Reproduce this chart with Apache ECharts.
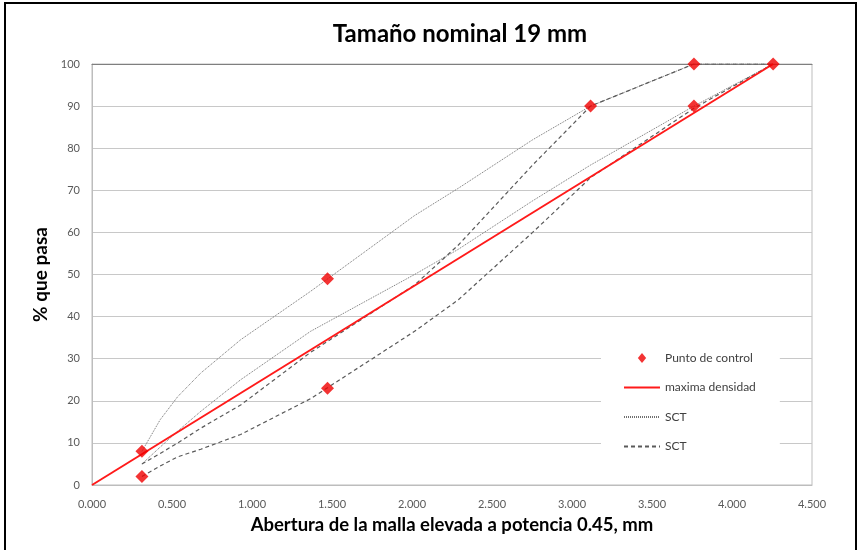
<!DOCTYPE html>
<html>
<head>
<meta charset="utf-8">
<script src="https://cdn.jsdelivr.net/npm/echarts@6/dist/echarts.min.js"></script>
<style>
  html, body { margin: 0; padding: 0; background: #fff; }
  #chart { width: 863px; height: 550px; }
</style>
</head>
<body>
<div id="chart"></div>
<script>
// Sieve openings raised to the 0.45 power (mm^0.45): 0.075 ... 25 mm
const sieveX = [0.312, 0.426, 0.536, 0.680, 0.929, 1.366, 2.016, 2.290, 2.754, 3.116, 3.762, 4.257];

// SCT limits, dotted pair
const sctDottedUpper = [8, 15.5, 21, 26.6, 34.5, 46, 64, 70.5, 82, 90, 100, 100];
const sctDottedLower = [5, 9, 12.8, 17.5, 25, 36.5, 50, 56, 67.5, 76, 90, 100];

// SCT limits, dashed pair
const sctDashedUpper = [5, 7.5, 10, 13.5, 19, 31.5, 47.5, 57, 76, 90, 100, 100];
const sctDashedLower = [2, 4.5, 6.7, 8.5, 12, 20.5, 36.5, 44, 60, 73, 89.5, 100];

// Control points (x = opening^0.45, y = % passing)
const controlX = [0.312, 0.312, 1.472, 1.472, 3.116, 3.762, 3.762, 4.257];
const controlY = [8, 2, 49, 23, 90, 100, 90, 100];

// Maximum density line, from origin to the maximum size
const maxDensityX = [0, 4.257];
const maxDensityY = [0, 100];

const xTicks = { min: 0, max: 4.5, interval: 0.5 };
const yTicks = { min: 0, max: 100, interval: 10 };

const pairs = (xs, ys) => xs.map((x, i) => [x, ys[i]]);

const labelFont = 'Lato, "Open Sans", sans-serif';
const dottedStyle = { color: '#707070', width: 1, type: [1, 1] };
const dashedStyle = { color: '#5a5a5a', width: 1.2, type: [4, 3] };
const hiddenSymbol = { opacity: 0 };

const chart = echarts.init(document.getElementById('chart'));
chart.setOption({
  animation: false,
  backgroundColor: '#fff',
  title: {
    text: 'Tamaño nominal 19 mm',
    left: 455,
    top: 17,
    textAlign: 'center',
    textStyle: { fontFamily: labelFont, fontWeight: 'bold', fontSize: 24, color: '#000' }
  },
  graphic: [{
    type: 'rect',
    shape: { x: 5, y: 3, width: 851, height: 560 },
    style: { fill: 'none', stroke: '#000', lineWidth: 2 },
    silent: true,
    z: 100
  }],
  grid: {
    left: 92, right: 51, top: 64, bottom: 65,
    show: true, borderColor: '#bdbdbd', borderWidth: 1
  },
  legend: {
    orient: 'vertical',
    left: 601,
    top: 340,
    padding: [12, 24, 12, 22],
    backgroundColor: '#fff',
    itemWidth: 36,
    itemHeight: 10,
    itemGap: 17.5,
    symbolKeepAspect: true,
    textStyle: { fontFamily: labelFont, fontSize: 12, color: '#404040' },
    formatter: name => name.trim(),
    data: [
      { name: 'Punto de control', icon: 'path://M5,0 L10,6 L5,12 L0,6 Z' },
      { name: 'maxima densidad', itemStyle: hiddenSymbol },
      { name: 'SCT', itemStyle: hiddenSymbol },
      { name: 'SCT ', itemStyle: hiddenSymbol }
    ]
  },
  xAxis: [{
    type: 'value',
    min: xTicks.min, max: xTicks.max, interval: xTicks.interval,
    name: 'Abertura de la malla elevada a potencia 0.45, mm',
    nameLocation: 'middle',
    nameGap: 31,
    nameTextStyle: { fontFamily: labelFont, fontWeight: 'bold', fontSize: 18.5, color: '#000' },
    axisLine: { lineStyle: { color: '#bdbdbd' } },
    axisTick: { show: false },
    splitLine: { show: false },
    axisLabel: {
      margin: 14, color: '#595959', fontFamily: labelFont, fontSize: 11,
      formatter: v => v.toFixed(3)
    }
  }, {
    type: 'value', position: 'top',
    min: xTicks.min, max: xTicks.max,
    axisLine: { show: true, lineStyle: { color: '#7f7f7f' } },
    axisTick: { show: false }, axisLabel: { show: false }, splitLine: { show: false }
  }],
  yAxis: {
    type: 'value',
    min: yTicks.min, max: yTicks.max, interval: yTicks.interval,
    name: '% que pasa',
    nameLocation: 'middle',
    nameGap: 42,
    nameTextStyle: { fontFamily: labelFont, fontWeight: 'bold', fontSize: 19, color: '#000' },
    axisLine: { show: true, lineStyle: { color: '#bdbdbd' } },
    axisTick: { show: false },
    splitLine: { lineStyle: { color: '#c8c8c8', width: 1 } },
    axisLabel: { margin: 12, color: '#595959', fontFamily: labelFont, fontSize: 11 }
  },
  series: [
    {
      name: 'SCT', type: 'line', data: pairs(sieveX, sctDottedUpper),
      symbol: 'none', lineStyle: dottedStyle, itemStyle: { color: '#707070' }, z: 3
    },
    {
      name: 'SCT', type: 'line', data: pairs(sieveX, sctDottedLower),
      symbol: 'none', lineStyle: dottedStyle, itemStyle: { color: '#707070' }, z: 3
    },
    {
      name: 'SCT ', type: 'line', data: pairs(sieveX, sctDashedUpper),
      symbol: 'none', lineStyle: dashedStyle, itemStyle: { color: '#5a5a5a' }, z: 3
    },
    {
      name: 'SCT ', type: 'line', data: pairs(sieveX, sctDashedLower),
      symbol: 'none', lineStyle: dashedStyle, itemStyle: { color: '#5a5a5a' }, z: 3
    },
    {
      name: 'maxima densidad', type: 'line', data: pairs(maxDensityX, maxDensityY),
      symbol: 'none', lineStyle: { color: '#ff1a1a', width: 2 }, itemStyle: { color: '#ff1a1a' }, z: 4
    },
    {
      name: 'Punto de control', type: 'scatter', data: pairs(controlX, controlY),
      symbol: 'diamond', symbolSize: 13,
      itemStyle: { color: '#f00000' }, z: 5
    }
  ]
});
</script>
</body>
</html>
